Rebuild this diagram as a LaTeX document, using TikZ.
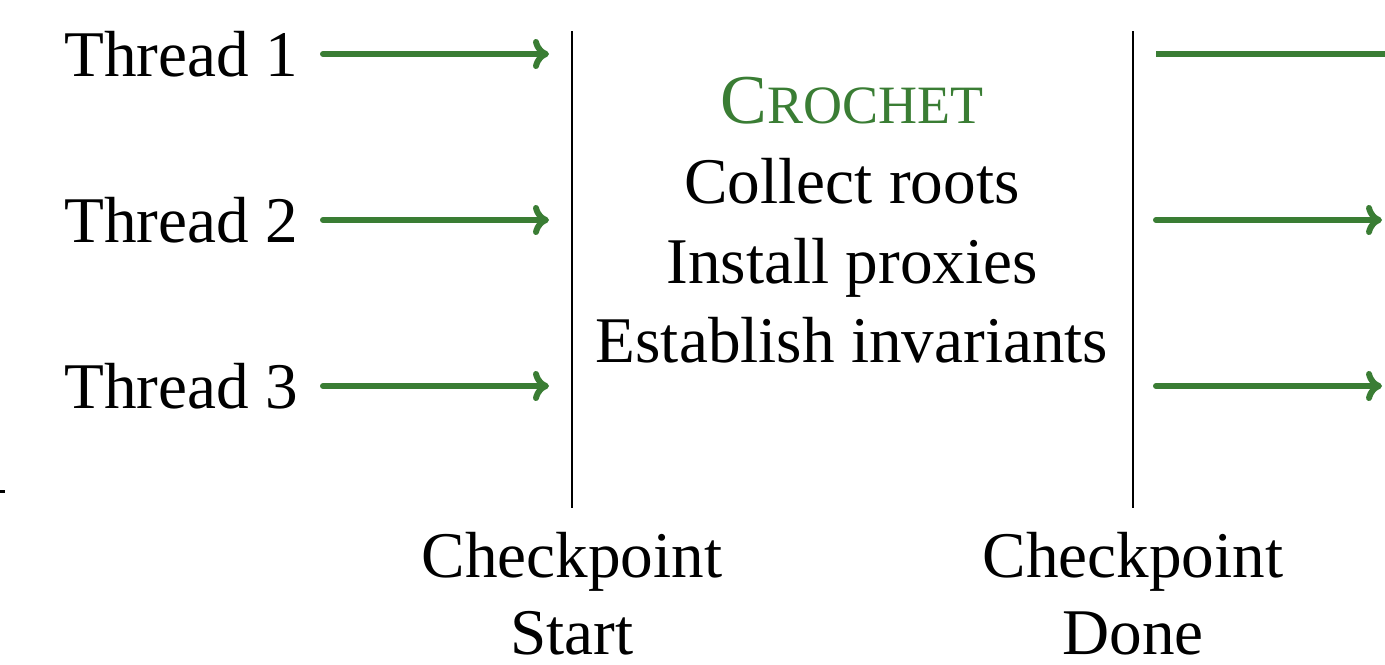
\documentclass[tikz,border=0pt]{standalone}
\usepackage{fontspec}
\setmainfont{Liberation Serif}
\usetikzlibrary{arrows.meta}
\definecolor{flowgreen}{RGB}{58,125,52}
\begin{document}
\begin{tikzpicture}[x=0.5pt,y=-0.5pt,
  lbl/.style={inner sep=0pt,font=\fontsize{32.6}{39}\selectfont},
  flow/.style={draw=flowgreen,line width=3pt,line cap=round,
    -{To[length=8pt,width=15pt,line width=3pt]}},
  flowcut/.style={draw=flowgreen,line width=3pt},
  phase/.style={draw=black,line width=1.4pt}]
\useasboundingbox (0,0) rectangle (1385,664);

% thread labels
\node[lbl,anchor=base west] (t1) at (64,76) {Thread 1};
\node[lbl,anchor=base west] (t2) at (64,242) {Thread 2};
\node[lbl,anchor=base west] (t3) at (64,408) {Thread 3};

% checkpoint boundaries
\coordinate (starttop) at (572,31);
\coordinate (startbot) at (572,508);
\coordinate (donetop) at (1133,31);
\coordinate (donebot) at (1133,508);
\draw[phase] (starttop) -- (startbot);
\draw[phase] (donetop) -- (donebot);

% incoming arrows
\coordinate (a1) at (323,54);  \coordinate (b1) at (549,54);
\coordinate (a2) at (323,220); \coordinate (b2) at (549,220);
\coordinate (a3) at (323,386); \coordinate (b3) at (549,386);
\draw[flow] (a1) -- (b1);
\draw[flow] (a2) -- (b2);
\draw[flow] (a3) -- (b3);

% outgoing arrows
\coordinate (c1) at (1156,54);  \coordinate (d1) at (1400,54);
\coordinate (c2) at (1156,220); \coordinate (d2) at (1382,220);
\coordinate (c3) at (1156,386); \coordinate (d3) at (1382,386);
\draw[flowcut] (c1) -- (d1);
\draw[flow] (c2) -- (d2);
\draw[flow] (c3) -- (d3);

% pause work
\node[lbl,anchor=base,text=flowgreen] (crochet) at (852,123)
  {{\fontsize{35}{40}\selectfont C}{\fontsize{27}{32}\selectfont ROCHET}};
\node[lbl,anchor=base] (collect) at (852,203) {Collect roots};
\node[lbl,anchor=base] (install) at (852,283) {Install proxies};
\node[lbl,anchor=base] (establish) at (852,362) {Establish invariants};

% checkpoint labels
\node[lbl,anchor=base] (startA) at (572,577) {Checkpoint};
\node[lbl,anchor=base] (startB) at (572,654) {Start};
\node[lbl,anchor=base] (doneA) at (1133,577) {Checkpoint};
\node[lbl,anchor=base] (doneB) at (1133,654) {Done};

% stray tick at the left edge
\coordinate (tickA) at (0,491);
\coordinate (tickB) at (5,491);
\draw[black,line width=1.5pt] (tickA) -- (tickB);
\end{tikzpicture}
\end{document}
